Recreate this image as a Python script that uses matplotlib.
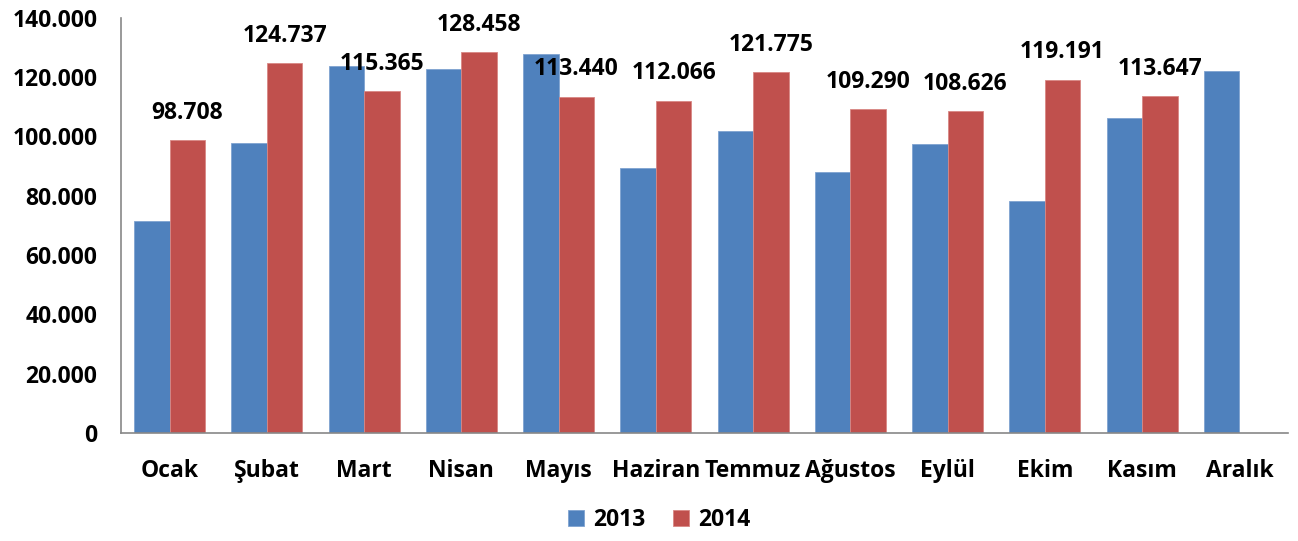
import numpy as np
import matplotlib
matplotlib.use("Agg")
import matplotlib.pyplot as plt
from matplotlib.ticker import FuncFormatter

# months and monthly values (2013, 2014 from the labels)
months = ["Ocak", "Şubat", "Mart", "Nisan", "Mayıs", "Haziran",
          "Temmuz", "Ağustos", "Eylül", "Ekim", "Kasım", "Aralık"]
vals_2013 = [71600, 97900, 123700, 122600, 127800, 89300,
             101900, 88000, 97500, 78300, 106100, 122000]
vals_2014 = [98708, 124737, 115365, 128458, 113440, 112066,
             121775, 109290, 108626, 119191, 113647]

plt.rcParams["font.family"] = ["Open Sans", "DejaVu Sans"]
plt.rcParams["font.weight"] = "bold"
fs = 16.5

fig = plt.figure(figsize=(12.98, 5.41), dpi=100)
ax = fig.add_axes([0.0932, 0.1996, 0.8991, 0.7674])

x = np.arange(len(months))
w = 0.365
ax.bar(x - w / 2, vals_2013, w, color="#4F81BD", edgecolor="#7FA3D1", linewidth=0.6, label="2013")
ax.bar(x[:len(vals_2014)] + w / 2, vals_2014, w, color="#C0504D", edgecolor="#D88784", linewidth=0.6, label="2014")

# labels only on the 2014 bars
for i, v in enumerate(vals_2014):
    lbl = f"{v:,}".replace(",", ".")
    ax.annotate(lbl, (x[i] + w / 2, v), xytext=(0, 11), textcoords="offset points",
                ha="center", va="bottom", fontsize=fs, fontweight="bold")

ax.set_xlim(-0.5, len(months) - 0.5)
ax.set_ylim(0, 140000)
ax.set_yticks(np.arange(0, 140001, 20000))
ax.yaxis.set_major_formatter(FuncFormatter(lambda v, p: "0" if v == 0 else f"{int(v):,}".replace(",", ".")))
ax.set_xticks(x)
ax.set_xticklabels(months)
ax.tick_params(axis="both", length=0, labelsize=fs)
ax.tick_params(axis="x", pad=19)
ax.tick_params(axis="y", pad=17)
for t in ax.get_xticklabels() + ax.get_yticklabels():
    t.set_fontweight("bold")

for s in ["top", "right"]:
    ax.spines[s].set_visible(False)
for s in ["left", "bottom"]:
    ax.spines[s].set_color("#888888")
    ax.spines[s].set_linewidth(1.2)

fig.legend(loc="lower center", bbox_to_anchor=(0.508, -0.022), ncol=2, frameon=False,
           prop={"size": fs, "weight": "bold"}, handlelength=0.7, handleheight=0.7,
           handletextpad=0.4, columnspacing=1.2)

fig.savefig("out.png", dpi=100)
